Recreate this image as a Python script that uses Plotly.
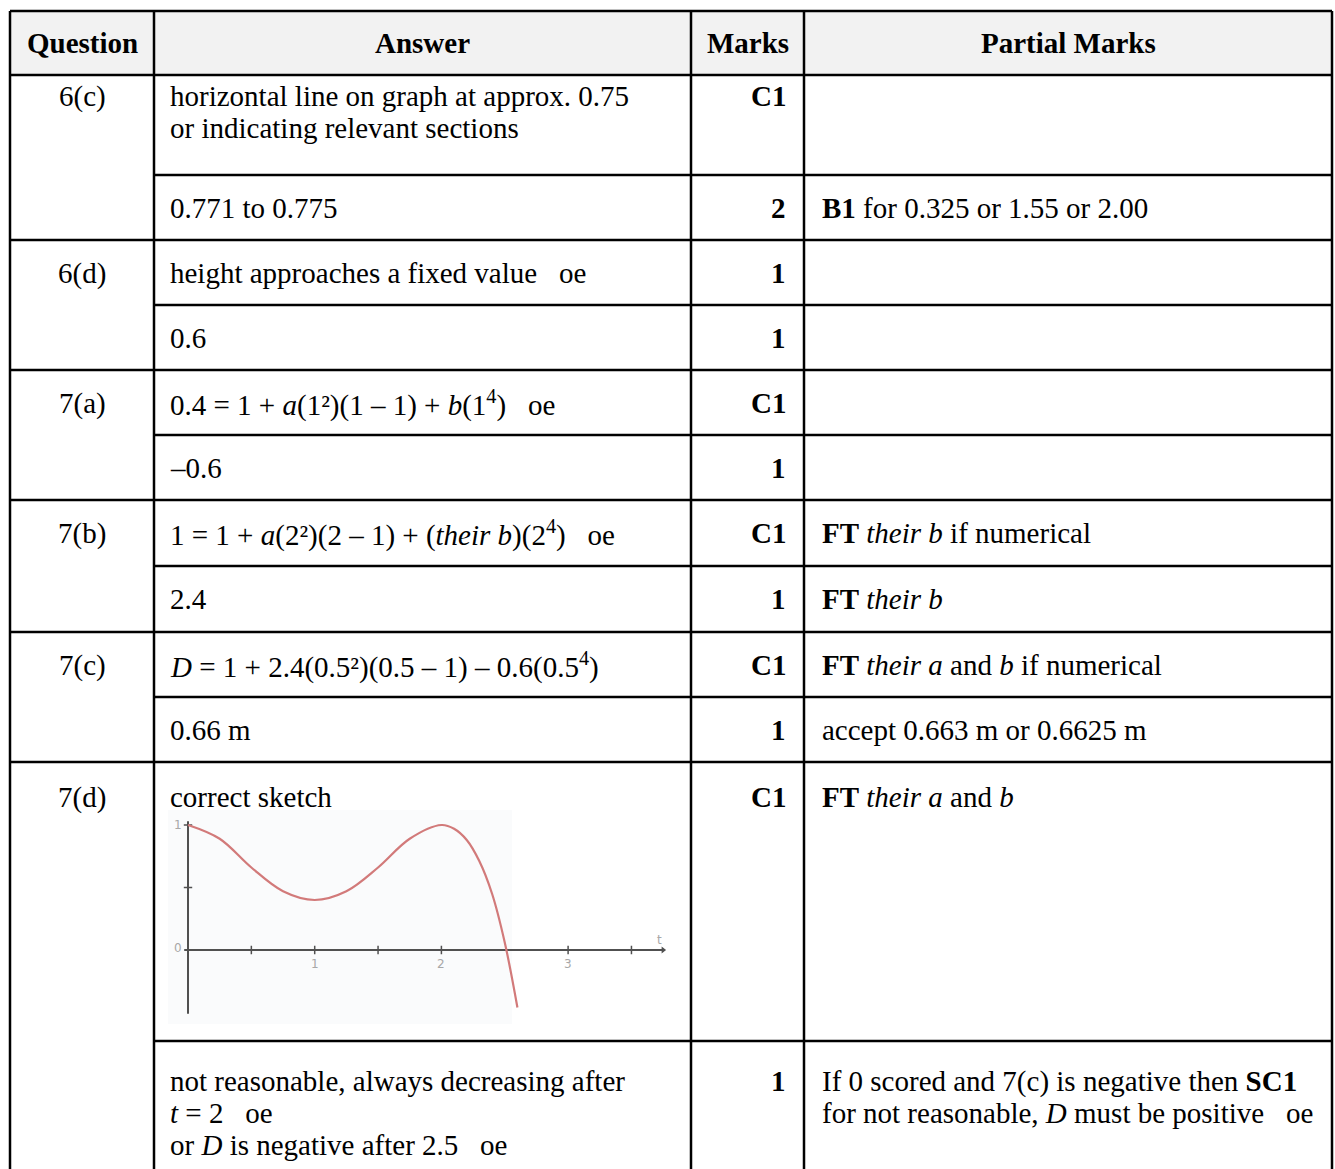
import plotly.graph_objects as go

W, H = 1335, 1169
FONT = "Liberation Serif, Times New Roman, serif"
NB = "\u00a0\u00a0\u00a0"

# ---------------- data ----------------
header = ["Question", "Answer", "Marks", "Partial Marks"]
questions = ["6(c)", "", "6(d)", "", "7(a)", "", "7(b)", "", "7(c)", "", "7(d)", ""]
answers = [
    "horizontal line on graph at approx. 0.75<br>or indicating relevant sections",
    "0.771 to 0.775",
    "height approaches a fixed value" + NB + "oe",
    "0.6",
    "0.4 = 1 + <i>a</i>(1²)(1 – 1) + <i>b</i>(1<sup>4</sup>)" + NB + "oe",
    "–0.6",
    "1 = 1 + <i>a</i>(2²)(2 – 1) + (<i>their b</i>)(2<sup>4</sup>)" + NB + "oe",
    "2.4",
    "<i>D</i> = 1 + 2.4(0.5²)(0.5 – 1) – 0.6(0.5<sup>4</sup>)",
    "0.66 m",
    "correct sketch",
    "not reasonable, always decreasing after<br><i>t</i> = 2" + NB + "oe<br>or <i>D</i> is negative after 2.5" + NB + "oe",
]
marks = ["C1", "2", "1", "1", "C1", "1", "C1", "1", "C1", "1", "C1", "1"]
partial = [
    "",
    "<b>B1</b> for 0.325 or 1.55 or 2.00",
    "", "", "", "",
    "<b>FT</b> <i>their b</i> if numerical",
    "<b>FT</b> <i>their b</i>",
    "<b>FT</b> <i>their a</i> and <i>b</i> if numerical",
    "accept 0.663 m or 0.6625 m",
    "<b>FT</b> <i>their a</i> and <i>b</i>",
    "If 0 scored and 7(c) is negative then <b>SC1</b><br>for not reasonable, <i>D</i> must be positive" + NB + "oe",
]

# sketch values
sketch_t = [0, 0.25, 0.5, 0.75, 1.0, 1.25, 1.5, 1.75, 2.0, 2.1, 2.2, 2.3, 2.4, 2.5, 2.6]
sketch_d = [1.0, 0.89, 0.66, 0.47, 0.40, 0.47, 0.66, 0.89, 1.0, 0.97, 0.88, 0.71, 0.45, 0.06, -0.46]
sketch_xticks = [0.5, 1, 1.5, 2, 3, 3.5]
sketch_yticks = [0.5, 1]
sketch_xlabels = ["1", "2", "3"]

# ---------------- layout geometry (pixels) ----------------
col_x = [10, 154, 691, 804, 1332]
table_top = 11
header_bottom = 75
row_tops = [75, 175, 240, 305, 370, 435, 500, 566, 632, 697, 762, 1041]
first_offset = [21, 33, 33, 33, 33, 33, 33, 33, 33, 33, 35, 40]
group_start = [True, False, True, False, True, False, True, False, True, False, True, False]
LINE_W = 2.5
LSP = 32
FS = 29

fig = go.Figure()
shapes = []
ann = []

# header background
shapes.append(dict(type="rect", xref="x", yref="y", x0=col_x[0], x1=col_x[-1],
                   y0=table_top, y1=header_bottom, fillcolor="#f2f2f2",
                   line=dict(width=0), layer="below"))

def hline(y, x0, x1):
    shapes.append(dict(type="line", xref="x", yref="y", x0=x0, x1=x1, y0=y, y1=y,
                       line=dict(color="black", width=LINE_W)))

def vline(x, y0, y1):
    shapes.append(dict(type="line", xref="x", yref="y", x0=x, x1=x, y0=y0, y1=y1,
                       line=dict(color="black", width=LINE_W)))

hline(table_top, col_x[0], col_x[-1])
hline(header_bottom, col_x[0], col_x[-1])
for top, g in zip(row_tops, group_start):
    if top == header_bottom:
        continue
    hline(top, col_x[0] if g else col_x[1], col_x[-1])
for x in col_x:
    vline(x, table_top, H + 5)

def text(x, y, s, anchor="left", bold=False):
    if bold:
        s = "<b>" + s + "</b>"
    ann.append(dict(xref="x", yref="y", x=x, y=y, text=s, showarrow=False,
                    xanchor=anchor, yanchor="middle",
                    font=dict(family=FONT, size=FS, color="black")))

# header text
hy = (table_top + header_bottom) / 2
for i, h in enumerate(header):
    text((col_x[i] + col_x[i + 1]) / 2, hy, h, anchor="center", bold=True)

for i, top in enumerate(row_tops):
    y0 = top + first_offset[i]
    if questions[i]:
        text((col_x[0] + col_x[1]) / 2, y0, questions[i], anchor="center")
    for k, line in enumerate(answers[i].split("<br>")):
        text(col_x[1] + 14, y0 + k * LSP, line)
    text(col_x[3] - 16, y0, marks[i], anchor="right", bold=True)
    if partial[i]:
        for k, line in enumerate(partial[i].split("<br>")):
            text(col_x[3] + 16, y0 + k * LSP, line)

# ---------------- sketch ----------------
t0_px, tunit = 188, 126.7
d0_px, dunit = 950, 125.0
tr = [-0.15, 3.8]
dr = [-0.6, 1.1]
sx0 = (t0_px + tr[0] * tunit) / W
sx1 = (t0_px + tr[1] * tunit) / W
sy_top = d0_px - dr[1] * dunit
sy_bot = d0_px - dr[0] * dunit
sy0 = 1 - sy_bot / H
sy1 = 1 - sy_top / H

# faint image background
shapes.append(dict(type="rect", xref="x", yref="y", x0=168, x1=512, y0=810, y1=1024,
                   fillcolor="#fafbfc", line=dict(width=0), layer="below"))

axis_col = "#505050"
fig.add_trace(go.Scatter(x=[0, 0], y=[-0.51, 1.03], mode="lines", xaxis="x2", yaxis="y2",
                         line=dict(color=axis_col, width=2), hoverinfo="skip", showlegend=False))
fig.add_trace(go.Scatter(x=[-0.03, 3.75], y=[0, 0], mode="lines", xaxis="x2", yaxis="y2",
                         line=dict(color=axis_col, width=2), hoverinfo="skip", showlegend=False))
fig.add_trace(go.Scatter(x=sketch_xticks, y=[0] * len(sketch_xticks), mode="markers",
                         xaxis="x2", yaxis="y2",
                         marker=dict(symbol="line-ns", size=6, line=dict(color=axis_col, width=1.5)),
                         hoverinfo="skip", showlegend=False))
fig.add_trace(go.Scatter(x=[0] * len(sketch_yticks), y=sketch_yticks, mode="markers",
                         xaxis="x2", yaxis="y2",
                         marker=dict(symbol="line-ew", size=6, line=dict(color=axis_col, width=1.5)),
                         hoverinfo="skip", showlegend=False))
fig.add_trace(go.Scatter(x=[3.75], y=[0], mode="markers", xaxis="x2", yaxis="y2",
                         marker=dict(symbol="triangle-right", size=6, color=axis_col),
                         hoverinfo="skip", showlegend=False))
fig.add_trace(go.Scatter(x=sketch_t, y=sketch_d, mode="lines", xaxis="x2", yaxis="y2",
                         line=dict(color="#d27a7a", width=2.2, shape="spline", smoothing=1.0),
                         hoverinfo="skip", showlegend=False))

lab_font = dict(family="DejaVu Sans", size=12, color="#a8a8a8")
for s in sketch_xlabels:
    ann.append(dict(xref="x2", yref="y2", x=float(s), y=-0.11, text=s, showarrow=False,
                    font=lab_font))
ann.append(dict(xref="x2", yref="y2", x=-0.08, y=0.02, text="0", showarrow=False, font=lab_font))
ann.append(dict(xref="x2", yref="y2", x=-0.08, y=1.0, text="1", showarrow=False, font=lab_font))
ann.append(dict(xref="x2", yref="y2", x=3.72, y=0.08, text="t", showarrow=False, font=lab_font))

fig.update_layout(
    width=W, height=H, autosize=False,
    margin=dict(l=0, r=0, t=0, b=0),
    paper_bgcolor="white", plot_bgcolor="rgba(0,0,0,0)",
    xaxis=dict(range=[0, W], domain=[0, 1], visible=False, fixedrange=True),
    yaxis=dict(range=[H, 0], domain=[0, 1], visible=False, fixedrange=True),
    xaxis2=dict(range=tr, domain=[sx0, sx1], anchor="y2", visible=False, fixedrange=True),
    yaxis2=dict(range=dr, domain=[sy0, sy1], anchor="x2", visible=False, fixedrange=True),
    shapes=shapes, annotations=ann, showlegend=False,
)

fig.write_html("out.html", config={"displayModeBar": False},
               post_script="document.body.style.margin='0px';")
